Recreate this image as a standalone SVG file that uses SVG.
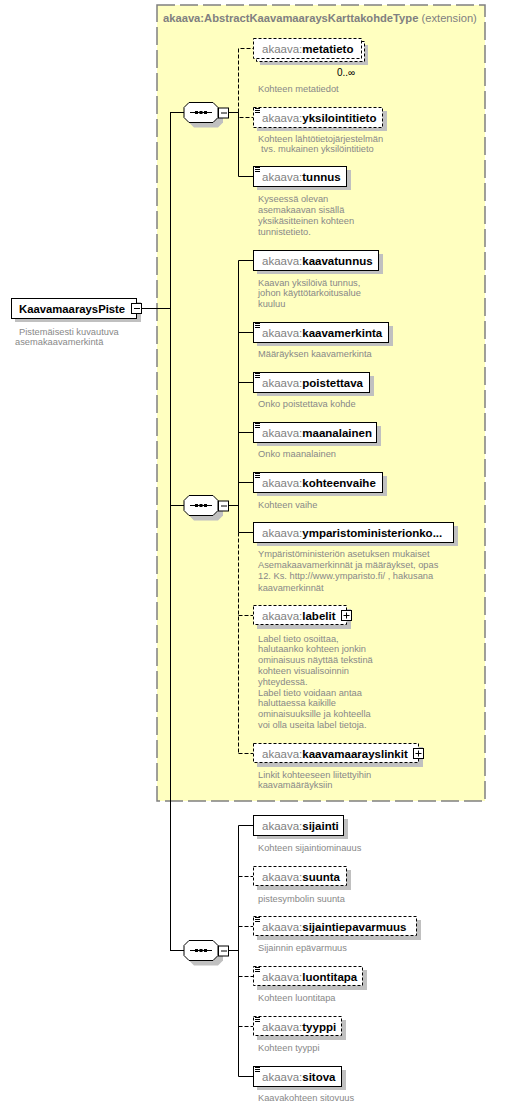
<svg xmlns="http://www.w3.org/2000/svg" width="528" height="1108" viewBox="0 0 528 1108">
<style>
.ext{fill:#FFFFC0;stroke:#808080;stroke-width:1.5;stroke-dasharray:18 5}
.box{fill:#fff;stroke:#000;stroke-width:1}
.opt{stroke-dasharray:3 2}
.sh{fill:#C0C0C0}
.ln{stroke:#000;fill:none;stroke-width:1}
.dl{stroke:#000;fill:none;stroke-width:1;stroke-dasharray:4 2}
.et{font-family:"Liberation Sans",Arial,sans-serif;font-size:11.5px}
.pre{fill:#808080}
.nm{fill:#000;font-weight:bold}
.desc{font-family:"Liberation Sans",Arial,sans-serif;font-size:9.3px;fill:#888}
.ttl{font-family:"Liberation Sans",Arial,sans-serif;font-size:11.2px;fill:#808080}
.ic{stroke:#000;stroke-width:1;fill:none}
.btn{fill:#fff;stroke:#000;stroke-width:1}
</style>
<defs>
<g id="seqsym">
<path class="sh" d="M194 -5 H218 L223 0 V10 L218 15 H194 L189 10 V0 Z"/>
<path class="box" d="M189 -10 H213 L218 -5 V5 L213 10 H189 L184 5 V-5 Z"/>
<path class="ln" d="M190 0 H212"/>
<rect x="195" y="-1.5" width="3" height="3" fill="#000"/>
<rect x="199.5" y="-1.5" width="3" height="3" fill="#000"/>
<rect x="204" y="-1.5" width="3" height="3" fill="#000"/>
<rect class="btn" x="218.5" y="-4.5" width="10" height="10"/>
<path class="ln" d="M221 0.5 H227"/>
</g>
<path id="icon" class="ic" d="M255 1.5 h5 M255 3.5 h5 M255 5.5 h5"/>
</defs>

<g id="extension">
<rect class="ext" x="157" y="5" width="328" height="796"/>
<text class="ttl" x="163" y="22"><tspan font-weight="bold">akaava:AbstractKaavamaaraysKarttakohdeType</tspan> (extension)</text>
</g>

<g id="connectors">
<path class="ln" d="M142 308.5 H170.5 M170.5 112 V950.5 M170 112.5 H184 M170 505.5 H184 M170 950.5 H184"/>
<path class="ln" d="M229 112.5 H238.5 M229 505.5 H238.5 M229 950.5 H238.5"/>
<path class="dl" d="M238.5 112.5 V48.5 H253 M238.5 112.5 V117.5 H253"/>
<path class="ln" d="M238.5 112.5 V176.5 H253"/>
<path class="ln" d="M238.5 260.5 V532.5 M238.5 260.5 H253 M238.5 332.5 H253 M238.5 382.5 H253 M238.5 432.5 H253 M238.5 482.5 H253 M238.5 532.5 H253"/>
<path class="dl" d="M238.5 532.5 V753.5 M238.5 615.5 H253 M238.5 753.5 H253"/>
<path class="ln" d="M238.5 825.5 V1076.5 M238.5 825.5 H253 M238.5 1076.5 H253"/>
<path class="dl" d="M238.5 876.5 H253 M238.5 926.5 H253 M238.5 976.5 H253 M238.5 1026.5 H253"/>
</g>

<g id="seq1"><use href="#seqsym" transform="translate(0,112.5)"/></g>
<g id="seq2"><use href="#seqsym" transform="translate(0,505.5)"/></g>
<g id="seq3"><use href="#seqsym" transform="translate(0,950.5)"/></g>

<g id="KaavamaaraysPiste">
<rect class="sh" x="15" y="302" width="126" height="20"/>
<rect class="box" x="11.5" y="298.5" width="125" height="20"/>
<text x="19" y="312.5" font-family="Liberation Sans, Arial, sans-serif" font-size="11.3" font-weight="bold" fill="#000">KaavamaaraysPiste</text>
<rect class="btn" x="131.5" y="303.5" width="10" height="10"/>
<path class="ln" d="M134 308.5 H140"/>
<text class="desc" x="19" y="335">Pistemäisesti kuvautuva</text>
<text class="desc" x="15" y="345">asemakaavamerkintä</text>
</g>

<g id="metatieto">
<rect class="sh" x="260" y="45" width="108" height="20"/>
<rect class="box opt" x="256.5" y="41.5" width="108" height="20" fill="none"/>
<rect class="box opt" x="253.5" y="38.5" width="108" height="20"/>
<text class="et" x="262" y="52.5"><tspan class="pre">akaava:</tspan><tspan class="nm">metatieto</tspan></text>
<text x="337" y="76" font-family="Liberation Sans, Arial, sans-serif" font-size="10" fill="#000">0..∞</text>
<text class="desc" x="258" y="91.5">Kohteen metatiedot</text>
</g>

<g id="yksilointitieto">
<rect class="sh" x="257" y="111" width="130" height="20"/>
<rect class="box opt" x="253.5" y="107.5" width="129" height="20"/>
<use href="#icon" y="107"/>
<text class="et" x="262" y="121.5"><tspan class="pre">akaava:</tspan><tspan class="nm">yksilointitieto</tspan></text>
<text class="desc" x="258" y="141.5">Kohteen lähtötietojärjestelmän</text>
<text class="desc" x="261" y="151.7">tvs. mukainen yksilöintitieto</text>
</g>

<g id="tunnus">
<rect class="sh" x="257" y="170" width="94" height="20"/>
<rect class="box" x="253.5" y="166.5" width="93" height="20"/>
<use href="#icon" y="166"/>
<text class="et" x="262" y="180.5"><tspan class="pre">akaava:</tspan><tspan class="nm">tunnus</tspan></text>
<text class="desc" x="258" y="201.6">Kyseessä olevan</text>
<text class="desc" x="258" y="212.8">asemakaavan sisällä</text>
<text class="desc" x="258" y="224">yksikäsitteinen kohteen</text>
<text class="desc" x="258" y="235.2">tunnistetieto.</text>
</g>

<g id="kaavatunnus">
<rect class="sh" x="257" y="254" width="126" height="20"/>
<rect class="box" x="253.5" y="250.5" width="125" height="20"/>
<text class="et" x="262" y="264.5"><tspan class="pre">akaava:</tspan><tspan class="nm">kaavatunnus</tspan></text>
<text class="desc" x="258" y="286">Kaavan yksilöivä tunnus,</text>
<text class="desc" x="258" y="296.3">johon käyttötarkoitusalue</text>
<text class="desc" x="258" y="306.6">kuuluu</text>
</g>

<g id="kaavamerkinta">
<rect class="sh" x="257" y="326" width="136" height="20"/>
<rect class="box" x="253.5" y="322.5" width="135" height="20"/>
<use href="#icon" y="322"/>
<text class="et" x="262" y="336.5"><tspan class="pre">akaava:</tspan><tspan class="nm">kaavamerkinta</tspan></text>
<text class="desc" x="258" y="357.3">Määräyksen kaavamerkinta</text>
</g>

<g id="poistettava">
<rect class="sh" x="257" y="376" width="117" height="20"/>
<rect class="box" x="253.5" y="372.5" width="116" height="20"/>
<use href="#icon" y="372"/>
<text class="et" x="262" y="386.5"><tspan class="pre">akaava:</tspan><tspan class="nm">poistettava</tspan></text>
<text class="desc" x="258" y="407.3">Onko poistettava kohde</text>
</g>

<g id="maanalainen">
<rect class="sh" x="257" y="426" width="124" height="20"/>
<rect class="box" x="253.5" y="422.5" width="123" height="20"/>
<use href="#icon" y="422"/>
<text class="et" x="262" y="436.5"><tspan class="pre">akaava:</tspan><tspan class="nm">maanalainen</tspan></text>
<text class="desc" x="258" y="456.6">Onko maanalainen</text>
</g>

<g id="kohteenvaihe">
<rect class="sh" x="257" y="476" width="130" height="20"/>
<rect class="box" x="253.5" y="472.5" width="129" height="20"/>
<use href="#icon" y="472"/>
<text class="et" x="262" y="486.5"><tspan class="pre">akaava:</tspan><tspan class="nm">kohteenvaihe</tspan></text>
<text class="desc" x="258" y="507.6">Kohteen vaihe</text>
</g>

<g id="ymparistoministerionko">
<rect class="sh" x="257" y="526" width="201" height="20"/>
<rect class="box" x="253.5" y="522.5" width="200" height="20"/>
<text class="et" x="262" y="536.5"><tspan class="pre">akaava:</tspan><tspan class="nm">ymparistoministerionko...</tspan></text>
<text class="desc" x="258" y="556.6">Ympäristöministeriön asetuksen mukaiset</text>
<text class="desc" x="258" y="567.9">Asemakaavamerkinnät ja määräykset, opas</text>
<text class="desc" x="258" y="579.2">12. Ks. http://www.ymparisto.fi/ , hakusana</text>
<text class="desc" x="258" y="590.5">kaavamerkinnät</text>
</g>

<g id="labelit">
<rect class="sh" x="257" y="609" width="94" height="20"/>
<rect class="box opt" x="253.5" y="605.5" width="93" height="19"/>
<text class="et" x="262" y="619.5"><tspan class="pre">akaava:</tspan><tspan class="nm">labelit</tspan></text>
<rect class="btn" x="341.5" y="610.5" width="10" height="10"/>
<path class="ln" d="M343.5 615.5 H349.5 M346.5 612.5 V618.5"/>
<text class="desc" x="258" y="641.6">Label tieto osoittaa,</text>
<text class="desc" x="258" y="652.4">halutaanko kohteen jonkin</text>
<text class="desc" x="258" y="663.2">ominaisuus näyttää tekstinä</text>
<text class="desc" x="258" y="674">kohteen visualisoinnin</text>
<text class="desc" x="258" y="684.8">yhteydessä.</text>
<text class="desc" x="258" y="695.6">Label tieto voidaan antaa</text>
<text class="desc" x="258" y="706.4">haluttaessa kaikille</text>
<text class="desc" x="258" y="717.2">ominaisuuksille ja kohteella</text>
<text class="desc" x="258" y="728">voi olla useita label tietoja.</text>
</g>

<g id="kaavamaarayslinkit">
<rect class="sh" x="257" y="747" width="166" height="20"/>
<rect class="box opt" x="253.5" y="743.5" width="165" height="19"/>
<text class="et" x="262" y="757.5"><tspan class="pre">akaava:</tspan><tspan class="nm">kaavamaarayslinkit</tspan></text>
<rect class="btn" x="413.5" y="748.5" width="10" height="10"/>
<path class="ln" d="M415.5 753.5 H421.5 M418.5 750.5 V756.5"/>
<text class="desc" x="258" y="777.6">Linkit kohteeseen liitettyihin</text>
<text class="desc" x="258" y="788.4">kaavamääräyksiin</text>
</g>

<g id="sijainti">
<rect class="sh" x="257" y="819" width="91" height="20"/>
<rect class="box" x="253.5" y="815.5" width="90" height="20"/>
<text class="et" x="262" y="829.5"><tspan class="pre">akaava:</tspan><tspan class="nm">sijainti</tspan></text>
<text class="desc" x="258" y="851">Kohteen sijaintiominauus</text>
</g>

<g id="suunta">
<rect class="sh" x="257" y="870" width="94" height="20"/>
<rect class="box opt" x="253.5" y="866.5" width="93" height="19"/>
<text class="et" x="262" y="880.5"><tspan class="pre">akaava:</tspan><tspan class="nm">suunta</tspan></text>
<text class="desc" x="258" y="901.6">pistesymbolin suunta</text>
</g>

<g id="sijaintiepavarmuus">
<rect class="sh" x="257" y="920" width="164" height="20"/>
<rect class="box opt" x="253.5" y="916.5" width="163" height="19"/>
<use href="#icon" y="916"/>
<text class="et" x="262" y="930.5"><tspan class="pre">akaava:</tspan><tspan class="nm">sijaintiepavarmuus</tspan></text>
<text class="desc" x="258" y="951">Sijainnin epävarmuus</text>
</g>

<g id="luontitapa">
<rect class="sh" x="257" y="970" width="110" height="20"/>
<rect class="box opt" x="253.5" y="966.5" width="109" height="19"/>
<use href="#icon" y="966"/>
<text class="et" x="262" y="980.5"><tspan class="pre">akaava:</tspan><tspan class="nm">luontitapa</tspan></text>
<text class="desc" x="258" y="1001">Kohteen luontitapa</text>
</g>

<g id="tyyppi">
<rect class="sh" x="257" y="1020" width="89" height="20"/>
<rect class="box opt" x="253.5" y="1016.5" width="88" height="19"/>
<use href="#icon" y="1016"/>
<text class="et" x="262" y="1030.5"><tspan class="pre">akaava:</tspan><tspan class="nm">tyyppi</tspan></text>
<text class="desc" x="258" y="1051">Kohteen tyyppi</text>
</g>

<g id="sitova">
<rect class="sh" x="257" y="1070" width="89" height="20"/>
<rect class="box" x="253.5" y="1066.5" width="88" height="20"/>
<use href="#icon" y="1066"/>
<text class="et" x="262" y="1080.5"><tspan class="pre">akaava:</tspan><tspan class="nm">sitova</tspan></text>
<text class="desc" x="258" y="1101">Kaavakohteen sitovuus</text>
</g>
</svg>
